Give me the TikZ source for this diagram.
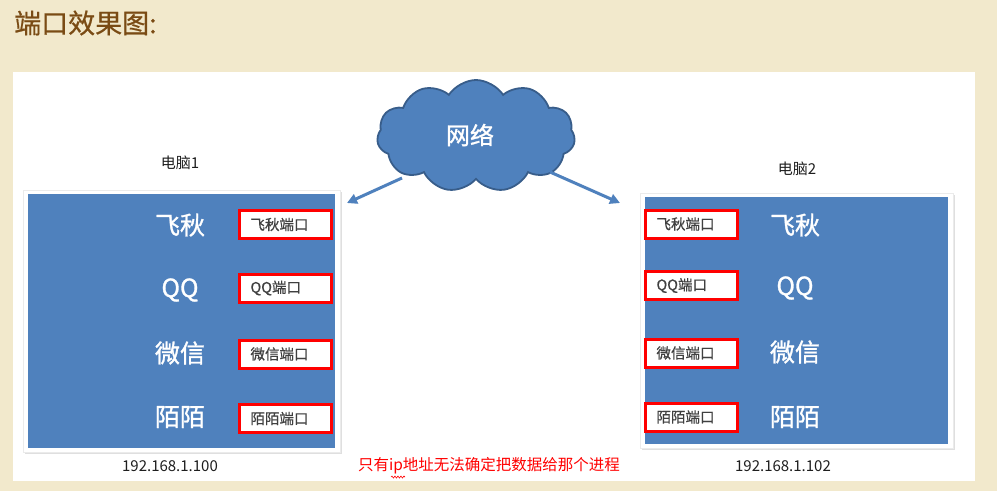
\documentclass[tikz,border=0pt]{standalone}
\usepackage{fontspec}
\setmainfont{Noto Sans CJK SC}
\newfontfamily\boldish{Noto Sans CJK SC}[FakeBold=1.2]
\newfontfamily\semiboldish{Noto Sans CJK SC}[FakeBold=0.6]
\usetikzlibrary{shapes.symbols,arrows.meta,shadows,decorations.pathmorphing}
\definecolor{bg}{RGB}{242,233,204}
\definecolor{blueA}{RGB}{79,129,189}
\definecolor{cloudedge}{RGB}{56,93,138}
\definecolor{titlebrown}{RGB}{122,75,20}
\definecolor{porttext}{RGB}{64,64,64}
\definecolor{darktext}{RGB}{30,30,30}
\tikzset{
  framebox/.style={fill=white, draw=black!8, inner sep=0pt,
    drop shadow={shadow xshift=1.5pt, shadow yshift=-2pt, opacity=0.25}},
  screen/.style={fill=blueA, inner sep=0pt},
  applabel/.style={text=white, font=\boldish\fontsize{25}{30}\selectfont, inner sep=0pt},
  portbox/.style={draw=red, line width=3pt, fill=white, minimum width=92pt,
    minimum height=28pt, text width=70pt, inner xsep=11pt, inner ysep=0pt,
    align=left, text=porttext, font=\semiboldish\fontsize{14.5}{17}\selectfont},
  pclabel/.style={text=darktext, font=\fontsize{15}{18}\selectfont, inner sep=0pt},
  iplabel/.style={text=darktext, font=\fontsize{15}{18}\selectfont, inner sep=0pt},
  netarrow/.style={draw=blueA, line width=3pt, -{Triangle[width=10pt,length=10pt]}},
}
\begin{document}
\begin{tikzpicture}[x=1pt,y=-1pt]
\fill[bg] (0,0) rectangle (997,491);
\useasboundingbox (0,0) rectangle (997,491);
\fill[white] (13,72) rectangle (975,481);

\node[anchor=west, inner sep=0pt, text=titlebrown, font=\semiboldish\fontsize{27}{32}\selectfont] (title) at (14,23) {端口效果图:};

% cloud
\node[cloud, cloud puffs=11, cloud puff arc=115, aspect=1.7, fill=blueA, draw=cloudedge,
  line width=1.8pt, minimum width=198pt, minimum height=112pt, inner sep=0pt] (net) at (476,136) {};
\node[text=white, font=\boldish\fontsize{24}{28}\selectfont, inner sep=0pt] (netlabel) at (470,135) {网络};

% computer 1
\node[pclabel] (pc1label) at (180,163) {电脑1};
\node[framebox, minimum width=317pt, minimum height=262pt] (pc1) at (181.5,321) {};
\node[screen, minimum width=307pt, minimum height=254pt] (scr1) at (181.5,321) {};
\node[applabel] (a1) at (180,225) {飞秋};
\node[applabel] (b1) at (180,290) {QQ};
\node[applabel] (c1) at (180,353) {微信};
\node[applabel] (d1) at (180,417) {陌陌};
\node[portbox] (pa1) at (285.5,224.5) {飞秋端口};
\node[portbox] (pb1) at (285.5,288) {QQ端口};
\node[portbox] (pc1p) at (285.5,354) {微信端口};
\node[portbox] (pd1) at (285.5,418.5) {陌陌端口};
\node[iplabel] (ip1) at (170,466) {192.168.1.100};

% computer 2
\node[pclabel] (pc2label) at (797,169) {电脑2};
\node[framebox, minimum width=313pt, minimum height=255pt] (pc2) at (796.5,320.5) {};
\node[screen, minimum width=303pt, minimum height=247pt] (scr2) at (796.5,320.5) {};
\node[applabel] (a2) at (795,225) {飞秋};
\node[applabel] (b2) at (795,288) {QQ};
\node[applabel] (c2) at (795,352) {微信};
\node[applabel] (d2) at (795,417) {陌陌};
\node[portbox] (pa2) at (691.5,224) {飞秋端口};
\node[portbox] (pb2) at (691.5,285.5) {QQ端口};
\node[portbox] (pc2p) at (691.5,353) {微信端口};
\node[portbox] (pd2) at (691.5,417) {陌陌端口};
\node[iplabel] (ip2) at (783,466) {192.168.1.102};

% arrows
\coordinate (l1s) at (402,178);
\coordinate (l1e) at (347,203);
\coordinate (r1s) at (550,172);
\coordinate (r1e) at (620,203);
\draw[netarrow] (l1s) -- (l1e);
\draw[netarrow] (r1s) -- (r1e);

% note
\node[text=red, inner sep=0pt, font=\fontsize{15.5}{18}\selectfont] (note) at (489,466) {只有ip地址无法确定把数据给那个进程};
\coordinate (w1) at (391,477);
\coordinate (w2) at (405,477);
\draw[red, line width=0.6pt, decorate, decoration={snake, amplitude=1pt, segment length=3pt}] (w1) -- (w2);
\end{tikzpicture}
\end{document}
